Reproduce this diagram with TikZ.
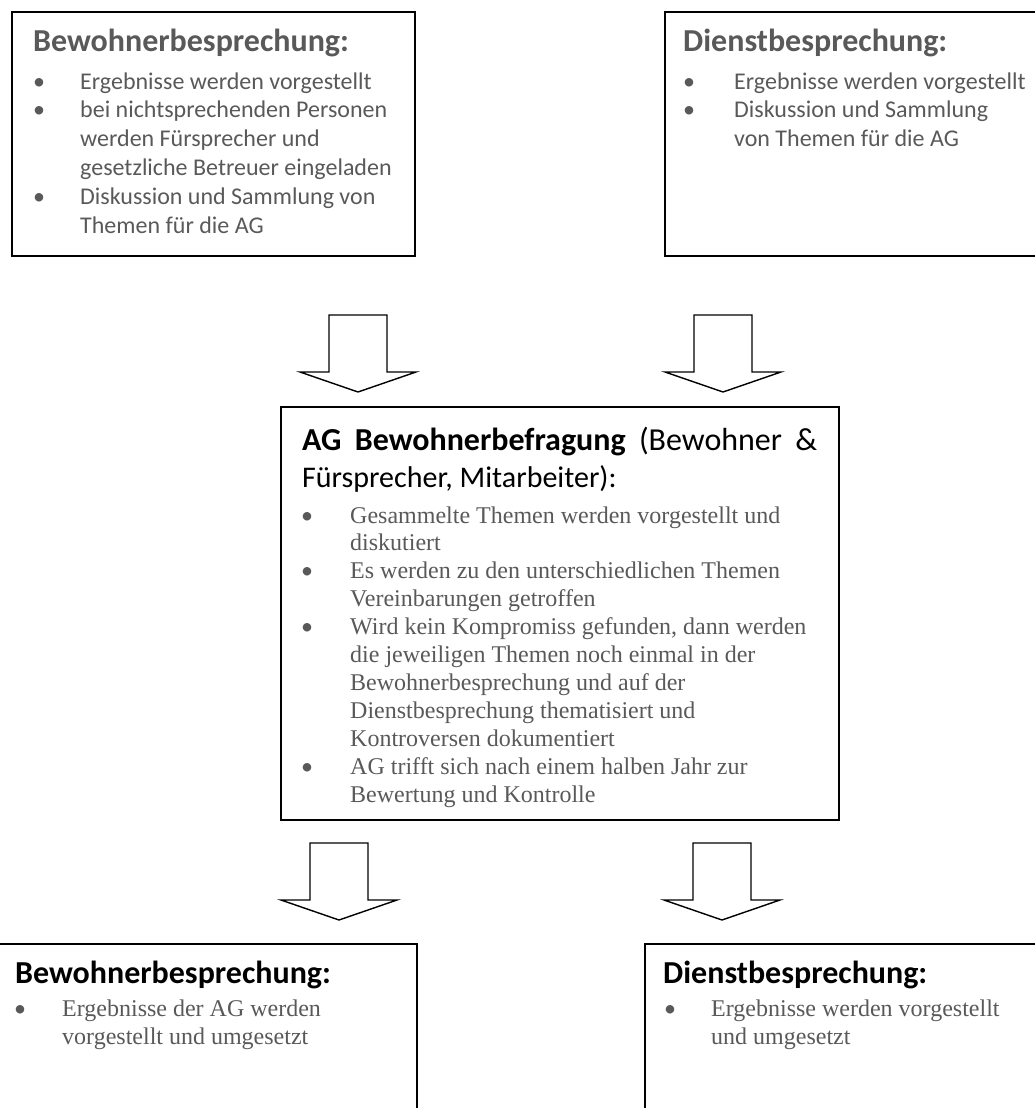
\documentclass[tikz,border=0pt]{standalone}
\usepackage{fontspec}
\setmainfont{Carlito}
\newfontfamily\timesfont{Liberation Serif}
\usepackage{tikz}
\usetikzlibrary{positioning}

\definecolor{txtgray}{HTML}{595959}

\tikzset{
  box/.style={draw, line width=1.6pt, anchor=north west, inner sep=0pt},
  headgray/.style={anchor=base west, inner sep=0pt, text=txtgray, font=\fontsize{32}{39}\selectfont\bfseries},
  headblack/.style={anchor=base west, inner sep=0pt, text=black, font=\fontsize{32}{39}\selectfont\bfseries},
  itemsans/.style={anchor=base west, inner sep=0pt, text=txtgray, font=\fontsize{24}{29}\selectfont},
  itemserif/.style={anchor=base west, inner sep=0pt, text=txtgray, font=\timesfont\fontsize{24}{28}\selectfont},
  dotsans/.style={anchor=base, inner sep=0pt, text=txtgray, font=\fontsize{24}{29}\selectfont},
  blockarrow/.pic={
    \draw[line width=1.4pt, line join=miter] (-29,0) -- (29,0) -- (29,57) -- (58,57)
      -- (0,77) -- (-58,57) -- (-29,57) -- cycle;
  }
}

\begin{document}
\begin{tikzpicture}[x=1pt, y=-1pt]
\useasboundingbox (0,0) rectangle (1035,1108);
\clip (0,0) rectangle (1035,1108);

%boxes
\node[box, minimum width=403, minimum height=244] (bew1) at (11,11) {};
\node[box, minimum width=420, minimum height=244] (dienst1) at (664,11) {};
\node[box, minimum width=558, minimum height=413] (ag) at (280,406) {};
\node[box, minimum width=426, minimum height=200] (bew2) at (-10,943) {};
\node[box, minimum width=420, minimum height=200] (dienst2) at (644,943) {};

%arrows
\pic (arrA) at (358,315) {blockarrow};
\pic (arrB) at (723,315) {blockarrow};
\pic (arrC) at (339,843) {blockarrow};
\pic (arrD) at (722,843) {blockarrow};

%Bewohnerbesprechung oben
\node[headgray] (bew1t) at (33,52) {Bewohnerbesprechung:};
\node[dotsans] (bew1d1) at (39,89) {\textbullet};
\node[dotsans] (bew1d2) at (39,117.9) {\textbullet};
\node[dotsans] (bew1d3) at (39,204.6) {\textbullet};
\node[itemsans] (bew1l1) at (80,89) {Ergebnisse werden vorgestellt};
\node[itemsans] (bew1l2) at (80,117.9) {bei nichtsprechenden Personen};
\node[itemsans] (bew1l3) at (80,146.8) {werden Fürsprecher und};
\node[itemsans] (bew1l4) at (80,175.7) {gesetzliche Betreuer eingeladen};
\node[itemsans] (bew1l5) at (80,204.6) {Diskussion und Sammlung von};
\node[itemsans] (bew1l6) at (80,233.5) {Themen für die AG};

%Dienstbesprechung oben
\node[headgray] (dienst1t) at (683,52) {Dienstbesprechung:};
\node[dotsans] (dienst1d1) at (689,89) {\textbullet};
\node[dotsans] (dienst1d2) at (689,117.9) {\textbullet};
\node[itemsans] (dienst1l1) at (734,89) {Ergebnisse werden vorgestellt};
\node[itemsans] (dienst1l2) at (734,117.9) {Diskussion und Sammlung};
\node[itemsans] (dienst1l3) at (734,146.8) {von Themen für die AG};

%AG
\node[anchor=base west, inner sep=0pt, font=\fontsize{32}{39}\selectfont] (agt1) at (302,450)
  {\makebox[515pt][s]{\textbf{AG}\hfill\textbf{Bewohnerbefragung}\hfill(Bewohner\hfill\&}};
\node[anchor=base west, inner sep=0pt, font=\fontsize{30}{37}\selectfont] (agt2) at (302,487)
  {Fürsprecher, Mitarbeiter):};
\node[dotsans] (agd1) at (307,523) {\textbullet};
\node[dotsans] (agd2) at (307,578.8) {\textbullet};
\node[dotsans] (agd3) at (307,634.6) {\textbullet};
\node[dotsans] (agd4) at (307,774.1) {\textbullet};
\node[itemserif] (agl1) at (350,523) {Gesammelte Themen werden vorgestellt und};
\node[itemserif] (agl2) at (350,550.9) {diskutiert};
\node[itemserif] (agl3) at (350,578.8) {Es werden zu den unterschiedlichen Themen};
\node[itemserif] (agl4) at (350,606.7) {Vereinbarungen getroffen};
\node[itemserif] (agl5) at (350,634.6) {Wird kein Kompromiss gefunden, dann werden};
\node[itemserif] (agl6) at (350,662.5) {die jeweiligen Themen noch einmal in der};
\node[itemserif] (agl7) at (350,690.4) {Bewohnerbesprechung und auf der};
\node[itemserif] (agl8) at (350,718.3) {Dienstbesprechung thematisiert und};
\node[itemserif] (agl9) at (350,746.2) {Kontroversen dokumentiert};
\node[itemserif] (agl10) at (350,774.1) {AG trifft sich nach einem halben Jahr zur};
\node[itemserif] (agl11) at (350,802) {Bewertung und Kontrolle};

%Bewohnerbesprechung unten
\node[headblack] (bew2t) at (15,983) {Bewohnerbesprechung:};
\node[dotsans] (bew2d1) at (20,1016) {\textbullet};
\node[itemserif] (bew2l1) at (62,1016) {Ergebnisse der AG werden};
\node[itemserif] (bew2l2) at (62,1044) {vorgestellt und umgesetzt};

%Dienstbesprechung unten
\node[headblack] (dienst2t) at (663,983) {Dienstbesprechung:};
\node[dotsans] (dienst2d1) at (670,1016) {\textbullet};
\node[itemserif] (dienst2l1) at (711,1016) {Ergebnisse werden vorgestellt};
\node[itemserif] (dienst2l2) at (711,1044) {und umgesetzt};
\end{tikzpicture}
\end{document}
